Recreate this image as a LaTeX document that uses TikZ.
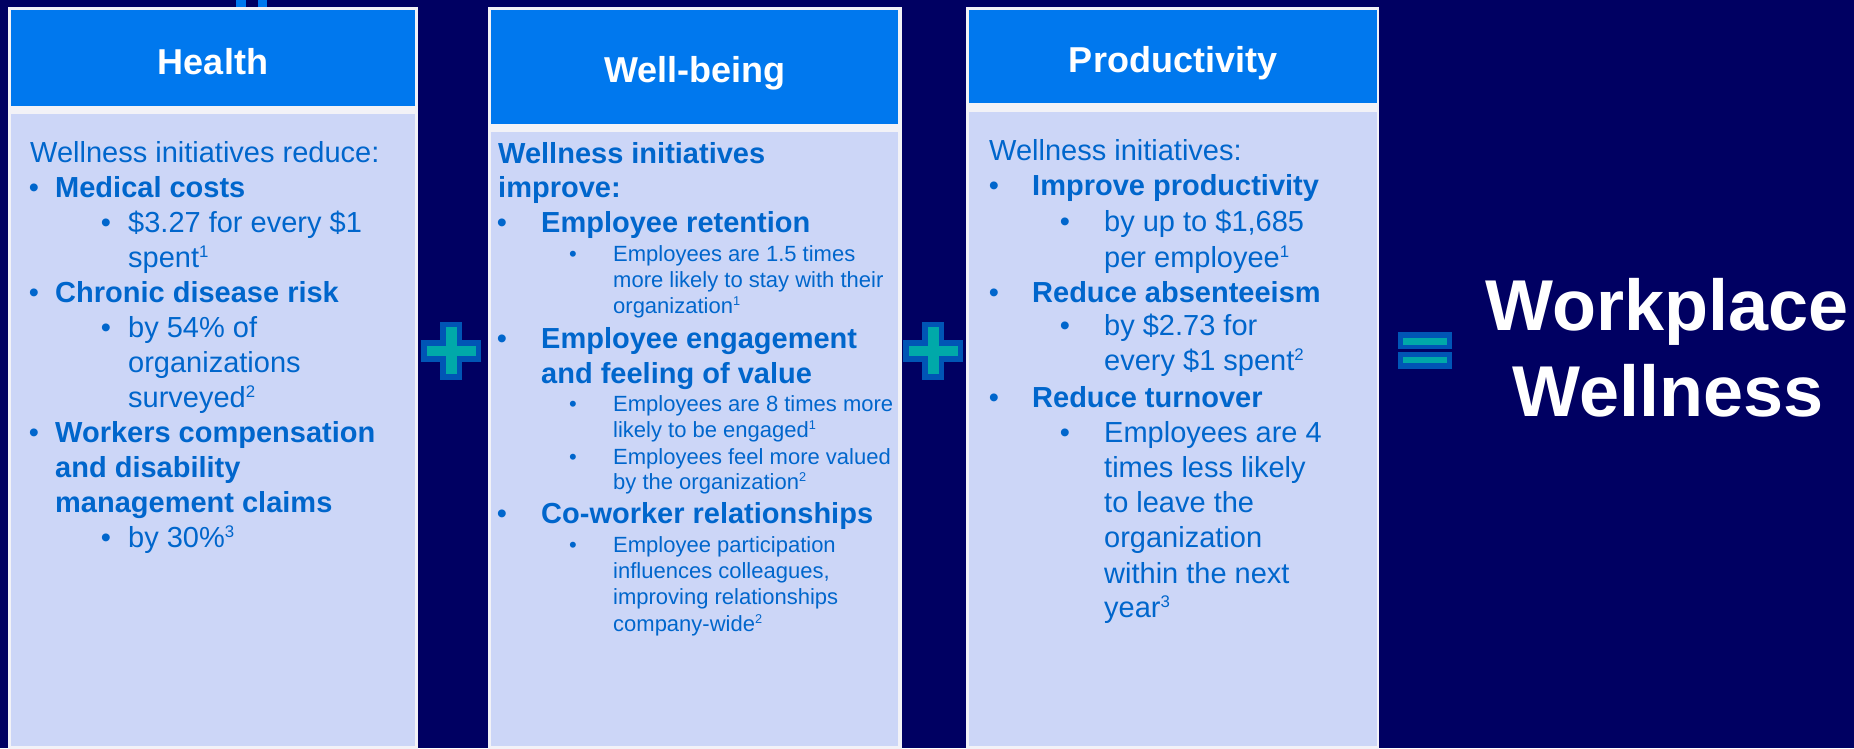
\documentclass[tikz,border=0pt]{standalone}
\usepackage{fontspec}
\setmainfont{Liberation Sans}
\definecolor{navy}{HTML}{000062}
\definecolor{hdr}{HTML}{0078EE}
\definecolor{bodyc}{HTML}{CCD6F7}
\definecolor{txt}{HTML}{0066CC}
\definecolor{plout}{HTML}{0055B5}
\definecolor{plin}{HTML}{00A9A9}
\definecolor{edge}{HTML}{F2F2F7}
\newcommand\spx[1]{\raisebox{.33em}{\scalebox{.58}{#1}}}
\tikzset{
  tx/.style={inner sep=0pt, anchor=base west, text=txt, font=\fontsize{29}{35}\selectfont},
  txb/.style={tx, font=\fontsize{29}{35}\selectfont\bfseries},
  txs/.style={tx, font=\fontsize{22}{26}\selectfont},
  bul/.style={inner sep=0pt, anchor=base, text=txt, font=\fontsize{29}{35}\selectfont},
  buls/.style={bul, font=\fontsize{22}{26}\selectfont},
  ttl/.style={inner sep=0pt, anchor=base, text=white, font=\fontsize{36}{40}\selectfont\bfseries},
  big/.style={inner sep=0pt, anchor=base, text=white, font=\fontsize{72}{80}\selectfont\bfseries},
}
\begin{document}
\begin{tikzpicture}[x=1pt,y=-1pt]
\useasboundingbox (0,0) rectangle (1854,748);
\fill[navy] (0,0) rectangle (1854,748);
% small marks at top
\fill[hdr] (236,0) rectangle (246,7);
\fill[hdr] (258,0) rectangle (267,7);
% columns
\fill[edge] (8,7) rectangle (418,749);
\fill[hdr] (11,10) rectangle (415,106);
\fill[bodyc] (11,114) rectangle (415,746);
\fill[edge] (488,7) rectangle (902,749);
\fill[hdr] (491,10) rectangle (898,124);
\fill[bodyc] (491,132) rectangle (898,746);
\fill[edge] (966,7) rectangle (1379,749);
\fill[hdr] (969,10) rectangle (1377,103);
\fill[bodyc] (969,112) rectangle (1377,746);
% titles
\node[ttl] (th) at (213,74) {Health};
\node[ttl] (tw) at (695,82) {Well-being};
\node[ttl] (tp) at (1173,72) {Productivity};
% plus signs
\foreach \cx in {451,933}{
  \fill[plout] (\cx-11,322) rectangle (\cx+11,380);
  \fill[plout] (\cx-30,340) rectangle (\cx+30,362);
  \fill[plin] (\cx-5.5,327) rectangle (\cx+5.5,374);
  \fill[plin] (\cx-24.5,346) rectangle (\cx+24.5,356);
}
% equals
\fill[plout] (1398,332) rectangle (1452,349);
\fill[plout] (1398,352) rectangle (1452,369);
\fill[plin] (1403,338) rectangle (1447,345);
\fill[plin] (1403,357) rectangle (1447,363);
\node[big] (wp1) at (1667,330) {Workplace};
\node[big] (wp2) at (1668,416) {Wellness};
% Health body
\node[tx] (h0) at (30,162) {Wellness initiatives reduce:};
\node[bul] (hb1) at (34,197) {•};
\node[txb] (h1) at (55,197) {Medical costs};
\node[bul] (hs1) at (106,232) {•};
\node[tx] (h2) at (128,232) {\$3.27 for every \$1};
\node[tx] (h3) at (128,267) {spent\spx{1}};
\node[bul] (hb2) at (34,302) {•};
\node[txb] (h4) at (55,302) {Chronic disease risk};
\node[bul] (hs2) at (106,337) {•};
\node[tx] (h5) at (128,337) {by 54\% of};
\node[tx] (h6) at (128,372) {organizations};
\node[tx] (h7) at (128,407) {surveyed\spx{2}};
\node[bul] (hb3) at (34,442) {•};
\node[txb] (h8) at (55,442) {Workers compensation};
\node[txb] (h9) at (55,477) {and disability};
\node[txb] (h10) at (55,512) {management claims};
\node[bul] (hs3) at (106,547) {•};
\node[tx] (h11) at (128,547) {by 30\%\spx{3}};
% Well-being body
\node[txb] (w0) at (498,163) {Wellness initiatives};
\node[txb] (w1) at (498,197) {improve:};
\node[bul] (wb1) at (502,232) {•};
\node[txb] (w2) at (541,232) {Employee retention};
\node[buls] (ws1) at (573,261) {•};
\node[txs] (w3) at (613,261) {Employees are 1.5 times};
\node[txs] (w4) at (613,287) {more likely to stay with their};
\node[txs] (w5) at (613,313) {organization\spx{1}};
\node[bul] (wb2) at (502,348) {•};
\node[txb] (w6) at (541,348) {Employee engagement};
\node[txb] (w7) at (541,383) {and feeling of value};
\node[buls] (ws2) at (573,411) {•};
\node[txs] (w8) at (613,411) {Employees are 8 times more};
\node[txs] (w9) at (613,437) {likely to be engaged\spx{1}};
\node[buls] (ws3) at (573,464) {•};
\node[txs] (w10) at (613,464) {Employees feel more valued};
\node[txs] (w11) at (613,489) {by the organization\spx{2}};
\node[bul] (wb3) at (502,523) {•};
\node[txb] (w12) at (541,523) {Co-worker relationships};
\node[buls] (ws4) at (573,552) {•};
\node[txs] (w13) at (613,552) {Employee participation};
\node[txs] (w14) at (613,578) {influences colleagues,};
\node[txs] (w15) at (613,604) {improving relationships};
\node[txs] (w16) at (613,631) {company-wide\spx{2}};
% Productivity body
\node[tx] (p0) at (989,160) {Wellness initiatives:};
\node[bul] (pb1) at (994,195) {•};
\node[txb] (p1) at (1032,195) {Improve productivity};
\node[bul] (ps1) at (1065,231) {•};
\node[tx] (p2) at (1104,231) {by up to \$1,685};
\node[tx] (p3) at (1104,267) {per employee\spx{1}};
\node[bul] (pb2) at (994,302) {•};
\node[txb] (p4) at (1032,302) {Reduce absenteeism};
\node[bul] (ps2) at (1065,335) {•};
\node[tx] (p5) at (1104,335) {by \$2.73 for};
\node[tx] (p6) at (1104,370) {every \$1 spent\spx{2}};
\node[bul] (pb3) at (994,407) {•};
\node[txb] (p7) at (1032,407) {Reduce turnover};
\node[bul] (ps3) at (1065,442) {•};
\node[tx] (p8) at (1104,442) {Employees are 4};
\node[tx] (p9) at (1104,477) {times less likely};
\node[tx] (p10) at (1104,512) {to leave the};
\node[tx] (p11) at (1104,547) {organization};
\node[tx] (p12) at (1104,583) {within the next};
\node[tx] (p13) at (1104,617) {year\spx{3}};
\end{tikzpicture}
\end{document}
